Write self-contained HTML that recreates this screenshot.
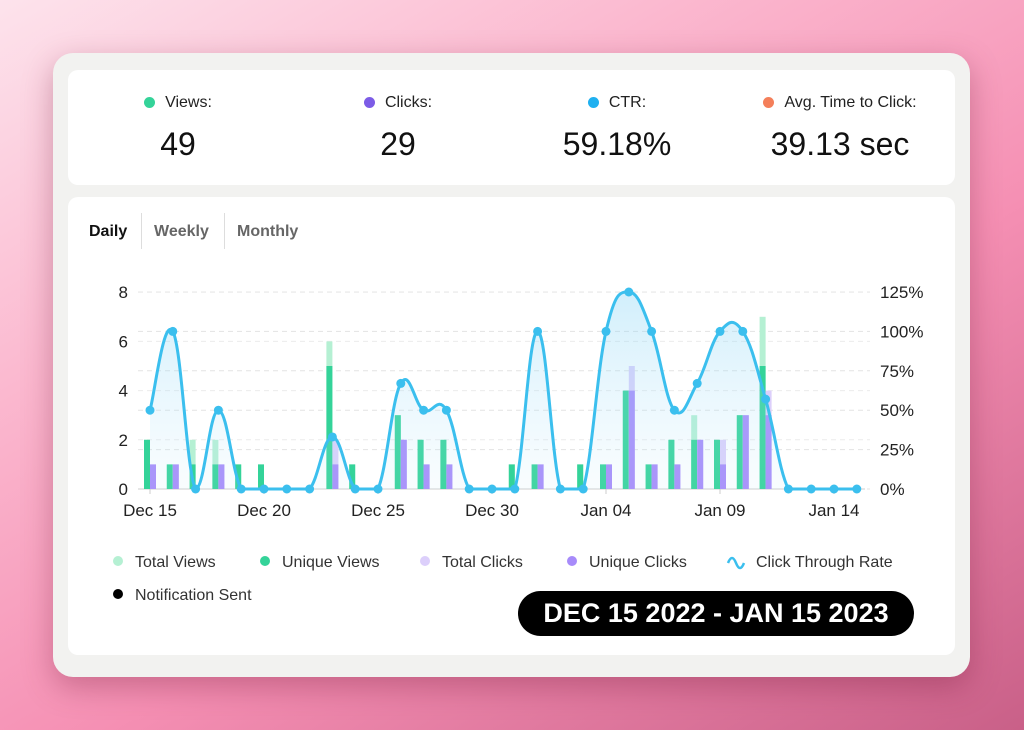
<!DOCTYPE html>
<html><head><meta charset="utf-8"><style>
html,body{margin:0;padding:0}
body{width:1024px;height:730px;overflow:hidden;position:relative;font-family:"Liberation Sans",sans-serif;
background:linear-gradient(150deg,#fde3ec 0%,#fbb8cf 30%,#f58fb3 60%,#c96088 100%);}
.card{position:absolute;left:53px;top:53px;width:917px;height:624px;background:#f2f2f0;border-radius:20px;box-shadow:0 10px 30px rgba(120,30,60,.35)}
.top{position:absolute;left:68px;top:70px;width:887px;height:115px;background:#fff;border-radius:10px}
.main{position:absolute;left:68px;top:197px;width:887px;height:458px;background:#fff;border-radius:10px}
.stat{position:absolute;top:0;width:200px;text-align:center}
.stat .l{position:absolute;top:24px;left:0;width:100%;font-size:16px;color:#222}
.stat .v{position:absolute;top:56px;left:0;width:100%;font-size:32px;color:#111}
.dot{display:inline-block;width:11px;height:11px;border-radius:50%;margin-right:10px;vertical-align:-1px}
.tabs{position:absolute;left:89px;top:213px;height:36px;font-size:16px;font-weight:bold}
.tabs span{position:absolute;top:10px;white-space:nowrap}
.sep{position:absolute;top:0;width:1px;height:36px;background:#ddd}
.badge{position:absolute;left:518px;top:591px;width:396px;height:45px;background:#000;border-radius:23px;color:#fff;font-weight:bold;font-size:27px;text-align:center;line-height:45px}
</style></head><body>
<div class="card"></div>
<div class="top">
 <div class="stat" style="left:10px"><div class="l"><span class="dot" style="background:#34d399"></span>Views:</div><div class="v">49</div></div>
 <div class="stat" style="left:230px"><div class="l"><span class="dot" style="background:#7c5ce6"></span>Clicks:</div><div class="v">29</div></div>
 <div class="stat" style="left:449px"><div class="l"><span class="dot" style="background:#1fb0f0"></span>CTR:</div><div class="v">59.18%</div></div>
 <div class="stat" style="left:672px;width:200px"><div class="l"><span class="dot" style="background:#f47f5a"></span>Avg. Time to Click:</div><div class="v">39.13 sec</div></div>
</div>
<div class="main"></div>
<div class="tabs">
 <span style="left:0;color:#111">Daily</span>
 <div class="sep" style="left:52px"></div>
 <span style="left:65px;color:#666">Weekly</span>
 <div class="sep" style="left:135px"></div>
 <span style="left:148px;color:#666">Monthly</span>
</div>
<svg id="ch" width="1024" height="730" style="position:absolute;left:0;top:0" font-family="Liberation Sans, sans-serif"></svg>
<div class="badge">DEC 15 2022 - JAN 15 2023</div>
<script>
var s=document.getElementById('ch'),h='';
var X=function(i){return 150+i*22.8},B=489,U=24.6,P=1.576;
h+='<defs><linearGradient id="g" x1="0" y1="0" x2="0" y2="1"><stop offset="0" stop-color="#7cd0f5" stop-opacity=".35"/><stop offset="1" stop-color="#bfe8fa" stop-opacity=".1"/></linearGradient></defs>';
for(var k=0;k<=5;k++){var y=B-k*25*P;h+='<line x1="138" x2="870" y1="'+y+'" y2="'+y+'" stroke="#e3e3e3" stroke-dasharray="5,4"/>';h+='<text x="880" y="'+(y+6)+'" font-size="17" fill="#222">'+k*25+'%</text>';}
for(var k=0;k<=4;k++){var y=B-k*2*U;if(k)h+='<line x1="138" x2="870" y1="'+y+'" y2="'+y+'" stroke="#ececec" stroke-dasharray="5,4"/>';h+='<text x="128" y="'+(y+6)+'" font-size="17" fill="#222" text-anchor="end">'+k*2+'</text>';}
h+='<line x1="138" x2="865" y1="'+B+'" y2="'+B+'" stroke="#ccc"/>';
var L=['Dec 15','Dec 20','Dec 25','Dec 30','Jan 04','Jan 09','Jan 14'];
for(var k=0;k<7;k++){h+='<line x1="'+X(k*5)+'" x2="'+X(k*5)+'" y1="'+B+'" y2="'+(B+5)+'" stroke="#ccc"/><text x="'+X(k*5)+'" y="516" font-size="17" fill="#222" text-anchor="middle">'+L[k]+'</text>';}
var d={0:[2,2,1,1],1:[1,1,1,1],2:[2,1,0,0],3:[2,1,1,1],4:[1,1,0,0],5:[1,1,0,0],8:[6,5,2,1],9:[1,1,0,0],11:[3,3,2,2],12:[2,2,1,1],13:[2,2,1,1],16:[1,1,0,0],17:[1,1,1,1],19:[1,1,0,0],20:[1,1,1,1],21:[4,4,5,4],22:[1,1,1,1],23:[2,2,1,1],24:[3,2,2,2],25:[2,2,2,1],26:[3,3,3,3],27:[7,5,4,3]};
for(var i in d){var v=d[i],x=X(+i);
 h+='<rect x="'+(x-6)+'" y="'+(B-v[0]*U)+'" width="6" height="'+v[0]*U+'" fill="#b5f0d3"/>';
 h+='<rect x="'+(x-6)+'" y="'+(B-v[1]*U)+'" width="6" height="'+v[1]*U+'" fill="#34d399"/>';
 h+='<rect x="'+x+'" y="'+(B-v[2]*U)+'" width="6" height="'+v[2]*U+'" fill="#dccffb"/>';
 h+='<rect x="'+x+'" y="'+(B-v[3]*U)+'" width="6" height="'+v[3]*U+'" fill="#a78bfa"/>';}
var c=[50,100,0,50,0,0,0,0,33,0,0,67,50,50,0,0,0,100,0,0,100,125,100,50,67,100,100,57,0,0,0,0];
var p=c.map(function(v,i){return [X(i),B-v*P]});
var t=0.4,path='M'+p[0][0]+','+p[0][1];
for(var i=0;i<p.length-1;i++){var a=p[i-1]||p[i],b=p[i],q=p[i+1],r=p[i+2]||q;
 var c1=[b[0]+(q[0]-a[0])*t/2,b[1]+(q[1]-a[1])*t/2],c2=[q[0]-(r[0]-b[0])*t/2,q[1]-(r[1]-b[1])*t/2];
 c1[1]=Math.min(c1[1],B);c2[1]=Math.min(c2[1],B);
 path+=' C'+c1+' '+c2+' '+q;}
h+='<path d="'+path+' L'+p[p.length-1][0]+','+B+' L'+p[0][0]+','+B+'Z" fill="url(#g)"/>';
h+='<path d="'+path+'" fill="none" stroke="#3bbfee" stroke-width="3"/>';
p.forEach(function(q){h+='<circle cx="'+q[0]+'" cy="'+q[1]+'" r="4.5" fill="#3bbfee"/>'});
var lg=[[118,561,'#b5f0d3','Total Views'],[265,561,'#34d399','Unique Views'],[425,561,'#dccffb','Total Clicks'],[572,561,'#a78bfa','Unique Clicks'],[118,594,'#000','Notification Sent']];
lg.forEach(function(l){h+='<circle cx="'+l[0]+'" cy="'+l[1]+'" r="5" fill="'+l[2]+'"/><text x="'+(l[0]+17)+'" y="'+(l[1]+6)+'" font-size="16" fill="#333">'+l[3]+'</text>'});
h+='<path d="M728,563 q4,-10 8,0 q4,10 8,0" fill="none" stroke="#3bbfee" stroke-width="2.5"/><text x="756" y="567" font-size="16" fill="#333">Click Through Rate</text>';
s.innerHTML=h;
</script>
</body></html>
